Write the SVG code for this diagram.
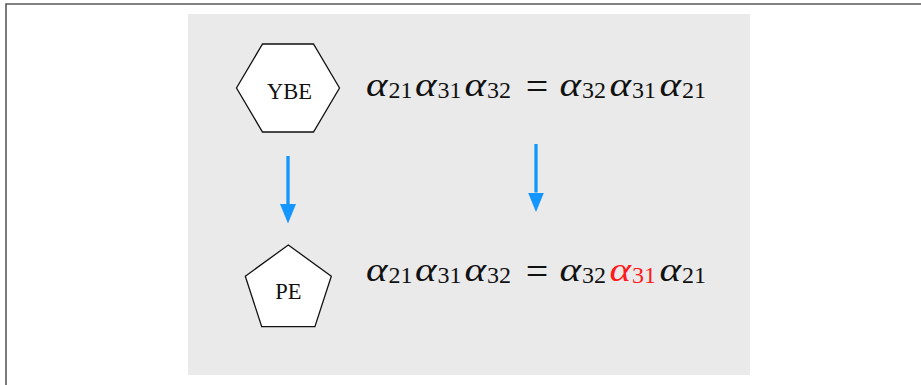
<svg xmlns="http://www.w3.org/2000/svg" width="921" height="385" viewBox="0 0 921 385">
  <style>
    .shape { fill: #ffffff; stroke: #111111; stroke-width: 1.3; }
    .lbl { font-family: "Liberation Serif", "Times New Roman", serif; font-size: 22.5px; fill: #111111; text-anchor: middle; }
    .al { font-family: "Liberation Serif", "Times New Roman", serif; font-style: italic; font-size: 34px; fill: #111111; }
    .sub { font-family: "Liberation Serif", "Times New Roman", serif; font-size: 24px; fill: #111111; }
    .eq { font-family: "Liberation Serif", "Times New Roman", serif; font-size: 40px; fill: #111111; text-anchor: middle; }
    .red { fill: #ff1a1a; }
    .conn { stroke: #1396ff; stroke-width: 3.3; fill: none; marker-end: url(#head); }
  </style>
  <defs>
    <marker id="head" markerUnits="userSpaceOnUse" markerWidth="20" markerHeight="17" refX="0" refY="8" orient="auto">
      <path d="M0,0 L19.5,8 L0,16 Z" fill="#1396ff"/>
    </marker>
  </defs>

  <!-- outer frame -->
  <path d="M6,385 V4 H921" fill="none" stroke="#5a5a5a" stroke-width="1.6"/>

  <!-- background panel -->
  <rect x="188" y="14" width="562" height="361" fill="#eaeaea"/>

  <g id="ybe">
    <polygon class="shape" points="262.5,44 313.5,44 339.5,88 313.5,132 262.5,132 236.5,88"/>
    <text class="lbl" x="289.5" y="98.5">YBE</text>
  </g>

  <g id="pe">
    <polygon class="shape" points="288.3,245 331.3,276.2 314.9,326.7 261.7,326.7 245.3,276.2"/>
    <text class="lbl" x="288.5" y="298.5">PE</text>
  </g>

  <g id="eq-top">
    <text class="al" x="366" y="95.7" textLength="21.5" lengthAdjust="spacingAndGlyphs">α</text><text class="sub" x="388.5" y="98">21</text>
    <text class="al" x="415" y="95.7" textLength="21.5" lengthAdjust="spacingAndGlyphs">α</text><text class="sub" x="437.5" y="98">31</text>
    <text class="al" x="464.5" y="95.7" textLength="21.5" lengthAdjust="spacingAndGlyphs">α</text><text class="sub" x="487" y="98">32</text>
    <text class="eq" x="537" y="100">=</text>
    <text class="al" x="559.5" y="95.7" textLength="21.5" lengthAdjust="spacingAndGlyphs">α</text><text class="sub" x="582" y="98">32</text>
    <text class="al" x="609.5" y="95.7" textLength="21.5" lengthAdjust="spacingAndGlyphs">α</text><text class="sub" x="632" y="98">31</text>
    <text class="al" x="659.5" y="95.7" textLength="21.5" lengthAdjust="spacingAndGlyphs">α</text><text class="sub" x="682" y="98">21</text>
  </g>

  <g id="eq-bottom">
    <text class="al" x="366" y="280.7" textLength="21.5" lengthAdjust="spacingAndGlyphs">α</text><text class="sub" x="388.5" y="283">21</text>
    <text class="al" x="415" y="280.7" textLength="21.5" lengthAdjust="spacingAndGlyphs">α</text><text class="sub" x="437.5" y="283">31</text>
    <text class="al" x="464.5" y="280.7" textLength="21.5" lengthAdjust="spacingAndGlyphs">α</text><text class="sub" x="487" y="283">32</text>
    <text class="eq" x="537" y="285">=</text>
    <text class="al" x="559.5" y="280.7" textLength="21.5" lengthAdjust="spacingAndGlyphs">α</text><text class="sub" x="582" y="283">32</text>
    <text class="al red" x="609.5" y="280.7" textLength="21.5" lengthAdjust="spacingAndGlyphs">α</text><text class="sub red" x="632" y="283">31</text>
    <text class="al" x="659.5" y="280.7" textLength="21.5" lengthAdjust="spacingAndGlyphs">α</text><text class="sub" x="682" y="283">21</text>
  </g>

  <g id="connectors">
    <line class="conn" x1="288" y1="156" x2="288" y2="204"/>
    <line class="conn" x1="536" y1="144" x2="536" y2="192.5"/>
  </g>
</svg>
